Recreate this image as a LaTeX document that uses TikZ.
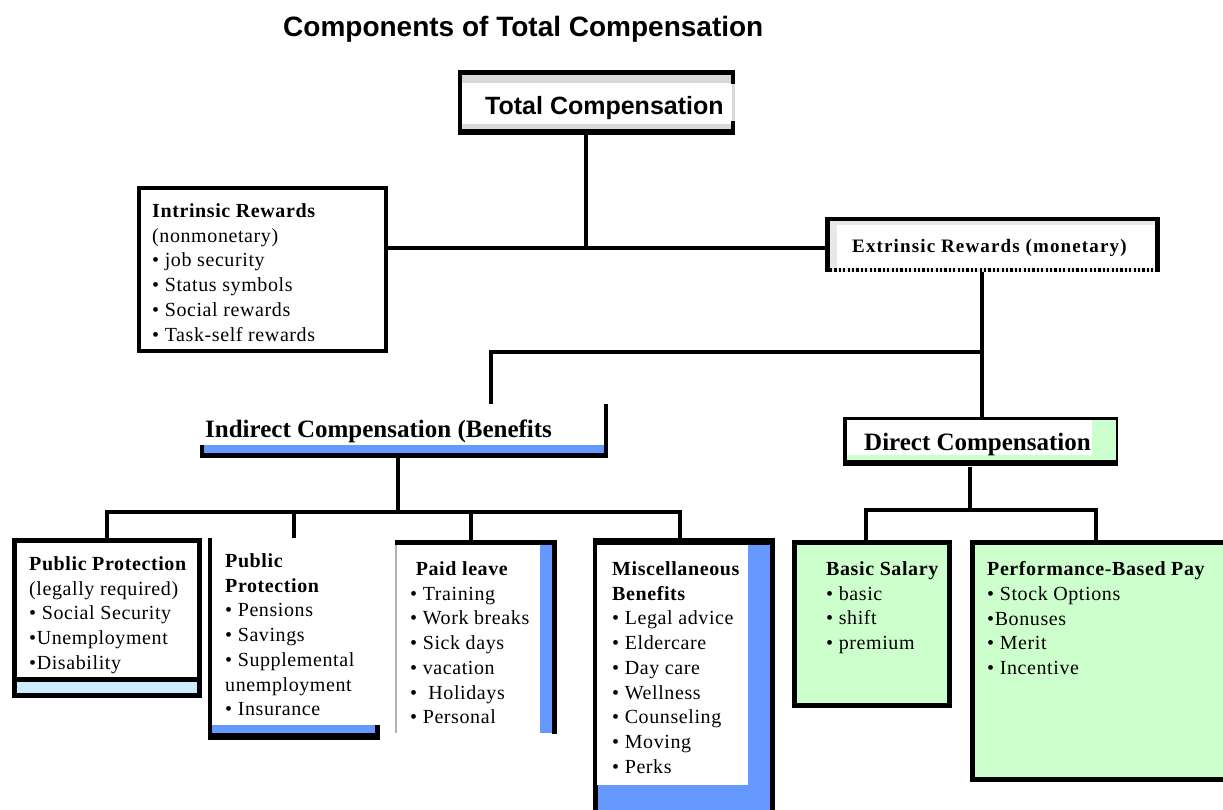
\documentclass[tikz,border=0pt]{standalone}
\usepackage{fontspec}
\setmainfont{Liberation Serif}
\newfontfamily\serifsp{Liberation Serif}[LetterSpace=3]
\newfontfamily\serifwide{Liberation Serif}[LetterSpace=6]
\newfontfamily\arialfam{Liberation Sans}

\definecolor{benefitblue}{HTML}{6699FF}
\definecolor{paygreen}{HTML}{CCFFCC}
\definecolor{palebox}{HTML}{CCECFF}
\definecolor{bandgray}{HTML}{D9D9D9}

\tikzset{
  area/.style={inner sep=0pt, outer sep=0pt, anchor=north west, draw=none},
  conn/.style={line width=4.5pt, black, line join=miter},
  body/.style={inner sep=0pt, anchor=north west, align=left,
    font=\serifsp\fontsize{20}{24.7}\selectfont},
  head/.style={inner sep=0pt, anchor=base west},
}

\begin{document}
\begin{tikzpicture}[x=1pt, y=-1pt]
\useasboundingbox (0,0) rectangle (1223,810);
\begin{scope}
\clip (0,0) rectangle (1223,810);

% ---- outlines of the boxes (named areas used by the connectors)
\node[area, minimum width=277pt, minimum height=65pt]  (tc)   at (458,70)  {};
\node[area, minimum width=251pt, minimum height=167pt] (ir)   at (137,186) {};
\node[area, minimum width=335pt, minimum height=55pt]  (ex)   at (825,217) {};
\node[area, minimum width=408pt, minimum height=54pt]  (ind)  at (200,404) {};
\node[area, minimum width=275pt, minimum height=50pt]  (dir)  at (843,417) {};
\node[area, minimum width=190pt, minimum height=159pt] (pp1)  at (12,538)  {};
\node[area, minimum width=172pt, minimum height=202pt] (pp2)  at (208,538) {};
\node[area, minimum width=162pt, minimum height=194pt] (pl)   at (395,540) {};
\node[area, minimum width=182pt, minimum height=272pt] (misc) at (593,538) {};
\node[area, minimum width=160pt, minimum height=168pt] (bs)   at (792,540) {};
\node[area, minimum width=258pt, minimum height=242pt] (pbp)  at (970,540) {};

% ---- Total Compensation
\fill[bandgray] (458,70) rectangle (735,135);
\fill[white] (462,83) rectangle (732,124);
\fill (458,70) rectangle (735,75);
\fill (458,129) rectangle (735,135);
\fill (458,70) rectangle (462,135);
\fill (731,70) rectangle (735,84);
\fill (731,121) rectangle (735,135);

% ---- Intrinsic Rewards
\draw[line width=4pt, fill=white] (139,188) rectangle (386,351);

% ---- Extrinsic Rewards
\fill[bandgray!60] (825,217) rectangle (1160,272);
\fill[white] (837,225) rectangle (1156,268);
\fill (825,217) rectangle (1160,221);
\fill (825,217) rectangle (830,272);
\fill (1155,217) rectangle (1160,272);
\draw[line width=4pt, dash pattern=on 2.2pt off 2.2pt] (830,270) -- (1155,270);

% ---- Indirect Compensation
\fill[benefitblue] (204,445) rectangle (604,453);
\fill (200,453) rectangle (608,458);
\fill (200,445) rectangle (204,458);
\fill (604,404) rectangle (608,458);

% ---- Direct Compensation
\fill[paygreen] (843,417) rectangle (1118,466);
\fill[white] (847,420) rectangle (1092,455);
\fill (843,417) rectangle (1118,419.5);
\fill (843,417) rectangle (847,466);
\fill (1115.5,417) rectangle (1118,466);
\fill (843,460) rectangle (1118,466);

% ---- Public Protection (legally required)
\fill (12,538) rectangle (202,698);
\fill[white] (17,543) rectangle (197,677);
\fill[palebox] (17,682) rectangle (197,693);

% ---- Public Protection (pensions etc.)
\fill (208,538) rectangle (212,740);
\fill[benefitblue] (212,725) rectangle (375,733);
\fill (208,733) rectangle (380,740);
\fill (375,725) rectangle (380,740);

% ---- Paid leave
\fill (395,540) rectangle (557,545);
\fill[gray!60] (395,545) rectangle (397,733);
\fill[benefitblue] (540,545) rectangle (552,733);
\fill (552,540) rectangle (557,734);

% ---- Miscellaneous Benefits
\fill (593,538) rectangle (775,815);
\fill[benefitblue] (598,545) rectangle (770,815);
\fill[white] (597,545) rectangle (748,785);

% ---- pay boxes
\draw[line width=5pt, fill=paygreen] (794.5,542.5) rectangle (949.5,705.5);
\draw[line width=5pt, fill=paygreen] (972.5,542.5) rectangle (1232,779.5);

% ---- connectors
\coordinate (j1) at (586,248);
\coordinate (j2) at (982,352);
\coordinate (j3) at (491,352);
\coordinate (j4) at (398,512);
\coordinate (k1) at (107,512);
\coordinate (k2) at (294,512);
\coordinate (k3) at (471,512);
\coordinate (k4) at (680,512);
\coordinate (j5) at (970,510);
\coordinate (m1) at (866,510);
\coordinate (m2) at (1096,510);

\draw[conn] (j1 |- tc.south) -- (j1);
\draw[conn] (ir.east |- j1) -- (ex.west |- j1);
\draw[conn] (j2 |- ex.south) -- (j2 |- dir.north);
\draw[conn] (j2) -- (j3) -- (j3 |- ind.north);
\draw[conn] (j4 |- ind.south) -- (j4);
\draw[conn] (k1 |- pp1.north) -- (k1) -- (k4) -- (k4 |- misc.north);
\draw[conn] (k2) -- (k2 |- pp2.north);
\draw[conn] (k3) -- (k3 |- pl.north);
\draw[conn] (j5 |- dir.south) -- (j5);
\draw[conn] (m1 |- bs.north) -- (m1) -- (m2) -- (m2 |- pbp.north);
\end{scope}

% ---- headings
\node[head, font=\arialfam\bfseries\fontsize{28}{32}\selectfont] (title) at (283,37)
  {Components of Total Compensation};
\node[head, font=\arialfam\bfseries\fontsize{25}{29}\selectfont] (tctext) at (485,115)
  {Total Compensation};
\node[head, font=\serifwide\bfseries\fontsize{19}{23}\selectfont] (extext) at (852,253)
  {Extrinsic Rewards (monetary)};
\node[head, font=\bfseries\fontsize{25}{29}\selectfont] (indtext) at (205,437)
  {Indirect Compensation (Benefits};
\node[head, font=\bfseries\fontsize{25}{29}\selectfont] (dirtext) at (864,450)
  {Direct Compensation};

% ---- box contents
\node[body] (irtext) at (152,203.5) {\textbf{Intrinsic Rewards}\\ (nonmonetary)\\ • job security\\
  • Status symbols\\ • Social rewards\\ • Task-self rewards};
\node[body] (pp1text) at (29,556.5) {\textbf{Public Protection}\\ (legally required)\\
  • Social Security\\ •Unemployment\\ •Disability};
\node[body] (pp2text) at (225,553.5) {\textbf{Public}\\ \textbf{Protection}\\ • Pensions\\
  • Savings\\ • Supplemental\\ unemployment\\ • Insurance};
\node[body] (pltext) at (410,561.5) {\ \textbf{Paid leave}\\ • Training\\ • Work breaks\\
  • Sick days\\ • vacation\\ • ~Holidays\\ • Personal};
\node[body] (misctext) at (612,561.5) {\textbf{Miscellaneous}\\ \textbf{Benefits}\\
  • Legal advice\\ • Eldercare\\ • Day care\\ • Wellness\\ • Counseling\\ • Moving\\ • Perks};
\node[body] (bstext) at (826,561.5) {\textbf{Basic Salary}\\ • basic\\ • shift\\ • premium};
\node[body] (pbptext) at (987,561.5) {\textbf{Performance-Based Pay}\\ • Stock Options\\
  •Bonuses\\ • Merit\\ • Incentive};
\end{tikzpicture}
\end{document}
